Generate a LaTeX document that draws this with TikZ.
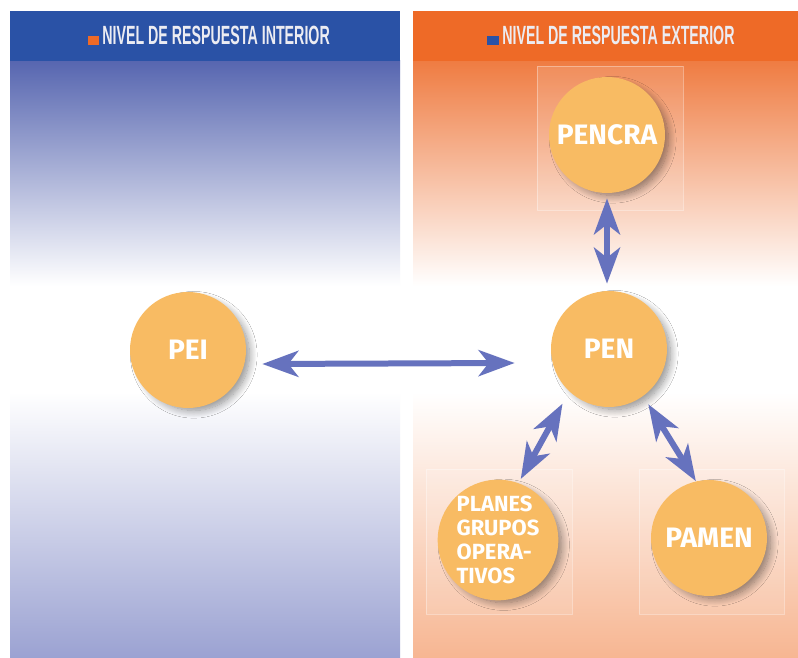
\documentclass[tikz,border=0pt]{standalone}
\usepackage{fontspec}
\setmainfont{Fira Sans}
\newfontfamily\headfont[FakeStretch=0.54]{Liberation Sans}
\usetikzlibrary{arrows.meta,shadows.blur,positioning}

\definecolor{headblue}{HTML}{2A52A6}
\definecolor{headorange}{HTML}{EE6A27}
\definecolor{topblue}{HTML}{5766B0}
\definecolor{lowblue}{HTML}{9BA2D2}
\definecolor{toporange}{HTML}{EF7C42}
\definecolor{loworange}{HTML}{F7B692}
\definecolor{disc}{HTML}{F8BB63}
\definecolor{linkblue}{HTML}{6672BE}
\definecolor{headtext}{HTML}{ECECF2}

\begin{document}
\begin{tikzpicture}[x=0.02cm, y=-0.02cm,
    plan/.style={circle, fill=disc, minimum size=2.32cm, inner sep=0pt,
        text=white, font=\bfseries\fontsize{16}{18}\selectfont,
        blur shadow={shadow xshift=0.12cm, shadow yshift=-0.1cm, shadow scale=0.96,
            shadow blur radius=0.16cm, shadow blur steps=12, shadow opacity=45}},
    small plan/.style={plan, align=left, font=\bfseries\fontsize{12.5}{13.6}\selectfont},
    link/.style={draw=linkblue, line width=0.12cm,
        {Stealth[length=0.72cm,width=0.52cm,inset=0.2cm]}-{Stealth[length=0.72cm,width=0.52cm,inset=0.2cm]}},
    tile/.style={fill=white, fill opacity=0.12, draw=white, draw opacity=0.35, line width=0.5pt},
    heading/.style={text=headtext, inner sep=0pt, font=\headfont\bfseries\fontsize{15}{15}\selectfont, anchor=base west}]

    \useasboundingbox (0,0) rectangle (798,658);
    \fill[white] (0,0) rectangle (798,658);

    % Left panel
    \shade[top color=topblue, bottom color=white] (10,61) rectangle (400,286);
    \shade[top color=white, bottom color=lowblue] (10,392) rectangle (400,658);
    \fill[headblue] (10,11) rectangle (400,61);
    \fill[headorange] (88,36) rectangle (99,45);
    \node[heading] (interior) at (102,45) {NIVEL DE RESPUESTA INTERIOR};

    % Right panel
    \shade[top color=toporange, bottom color=white] (413,61) rectangle (798,286);
    \shade[top color=white, bottom color=loworange] (413,392) rectangle (798,658);
    \fill[headorange] (413,11) rectangle (798,61);
    \fill[headblue] (487,36) rectangle (499,45);
    \node[heading] (exterior) at (502,45) {NIVEL DE RESPUESTA EXTERIOR};

    % Tiles behind the discs
    \filldraw[tile] (537,66) rectangle (683,210);
    \filldraw[tile] (426,469) rectangle (572,614);
    \filldraw[tile] (639,469) rectangle (784,614);

    % Plans
    \node[plan] (pei) at (188,350) {PEI};
    \node[plan] (pen) at (609,349) {PEN};
    \node[plan] (pencra) at (607,135) {PENCRA};
    \node[small plan] (planes) at (498,540) {PLANES\\GRUPOS\\OPERA-\\TIVOS};
    \node[plan] (pamen) at (709,538) {PAMEN};

    % Links
    \draw[link] ([shift={(16,14)}]pei.east) -- ([shift={(-36,14)}]pen.west);
    \draw[link] ([shift={(0,5)}]pencra.south) -- ([shift={(-2,-7)}]pen.north);
    \draw[link] ([shift={(-9,10)}]pen.230) -- ([shift={(2,-4)}]planes.70);
    \draw[link] ([shift={(5,8)}]pen.306) -- (pamen.103);
\end{tikzpicture}
\end{document}
